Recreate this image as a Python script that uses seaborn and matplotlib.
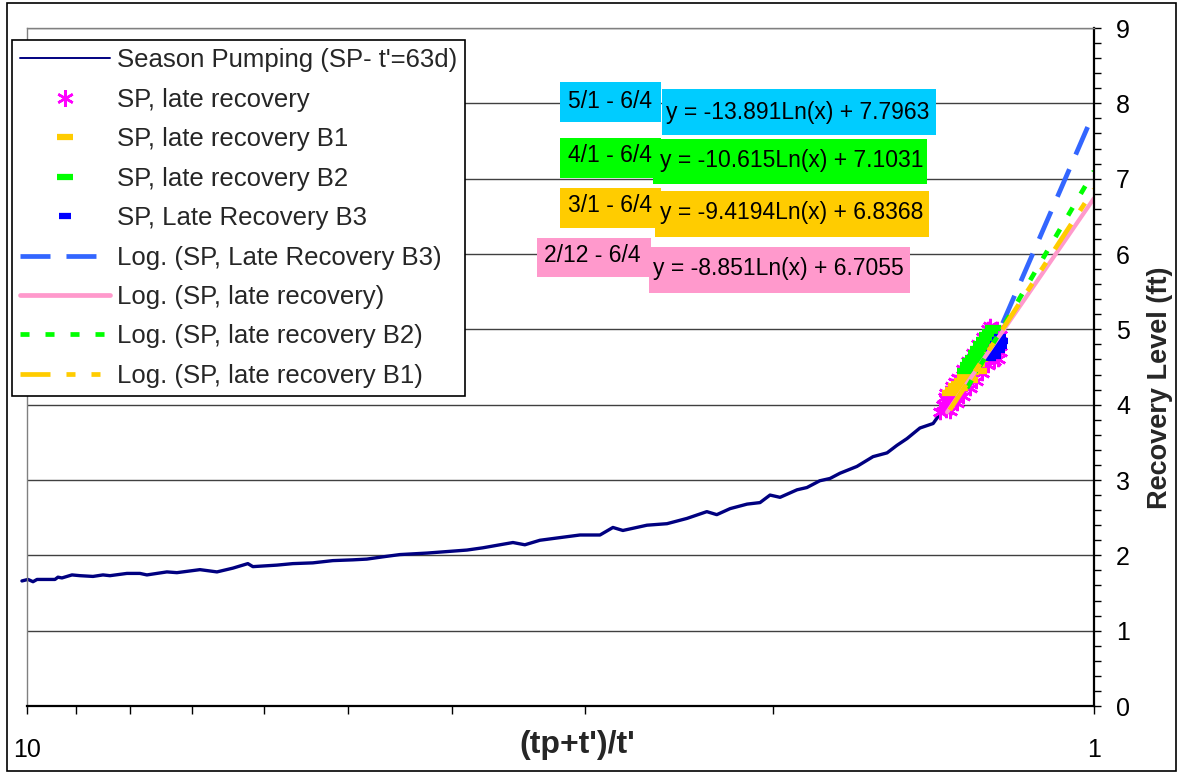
import matplotlib
matplotlib.use("Agg")
import matplotlib.pyplot as plt
import seaborn as sns
import pandas as pd
from matplotlib.lines import Line2D
from matplotlib.patches import Rectangle
from matplotlib.ticker import FixedLocator, NullFormatter, FixedFormatter, MultipleLocator

# ---------------- data ----------------
sp_x = [10.11, 9.978, 9.871, 9.786, 9.414, 9.354, 9.273, 9.075, 8.920, 8.673, 8.488, 8.361,
        8.060, 7.837, 7.720, 7.394, 7.236, 6.885, 6.637, 6.413, 6.209, 6.142, 5.832, 5.635,
        5.397, 5.168, 4.950, 4.803, 4.640, 4.473, 4.218, 4.041, 3.870, 3.739, 3.604, 3.504,
        3.415, 3.306, 3.187, 3.032, 2.904, 2.824, 2.764, 2.624, 2.513, 2.407, 2.306, 2.257,
        2.193, 2.114, 2.056, 2.012, 1.969, 1.898, 1.858, 1.807, 1.768, 1.730, 1.668, 1.611,
        1.563, 1.530, 1.497, 1.456, 1.415, 1.394, 1.373]
sp_y = [1.66, 1.68, 1.65, 1.68, 1.68, 1.71, 1.70, 1.74, 1.73, 1.72, 1.74, 1.73,
        1.76, 1.76, 1.74, 1.78, 1.77, 1.81, 1.78, 1.83, 1.89, 1.85, 1.87, 1.89,
        1.90, 1.93, 1.94, 1.95, 1.98, 2.01, 2.03, 2.05, 2.07, 2.10, 2.14, 2.17,
        2.14, 2.20, 2.23, 2.27, 2.27, 2.37, 2.33, 2.40, 2.42, 2.49, 2.58, 2.54,
        2.62, 2.68, 2.70, 2.80, 2.77, 2.87, 2.90, 2.99, 3.02, 3.09, 3.18, 3.31,
        3.36, 3.46, 3.55, 3.69, 3.75, 3.88, 3.97]

late_x = [1.394, 1.385, 1.376, 1.370, 1.365, 1.359, 1.350, 1.344, 1.336, 1.330, 1.321, 1.315,
          1.307, 1.301, 1.293, 1.287, 1.279, 1.274, 1.266, 1.260, 1.252, 1.247, 1.239, 1.233,
          1.225, 1.230, 1.252, 1.376, 1.350,
          1.379, 1.359, 1.341, 1.327, 1.312, 1.298, 1.285, 1.271, 1.257,
          1.365, 1.344, 1.327, 1.307, 1.290, 1.274, 1.257, 1.241, 1.225]
late_y = [3.90, 4.00, 3.93, 4.08, 4.02, 4.15, 4.10, 4.24, 4.18, 4.32, 4.27, 4.42,
          4.36, 4.50, 4.45, 4.60, 4.52, 4.70, 4.62, 4.80, 4.72, 4.90, 4.82, 5.00,
          4.92, 4.60, 5.05, 4.15, 4.30,
          4.10, 4.25, 4.35, 4.48, 4.58, 4.68, 4.80, 4.90, 5.00,
          3.92, 4.02, 4.12, 4.22, 4.32, 4.42, 4.52, 4.58, 4.70]

b1_x = [1.365, 1.356, 1.347, 1.339, 1.330, 1.321, 1.312, 1.304, 1.296, 1.287, 1.279, 1.268,
        1.336, 1.307, 1.282]
b1_y = [4.15, 4.20, 4.25, 4.28, 4.32, 4.37, 4.40, 4.44, 4.48, 4.54, 4.60, 4.66,
        4.22, 4.33, 4.45]

b2_x = [1.321, 1.312, 1.307, 1.298, 1.290, 1.285, 1.277, 1.268, 1.260, 1.252, 1.244,
        1.293, 1.279, 1.266, 1.252, 1.307]
b2_y = [4.45, 4.52, 4.58, 4.62, 4.68, 4.74, 4.80, 4.86, 4.92, 4.97, 5.02,
        4.56, 4.64, 4.74, 4.85, 4.46]

b3_x = [1.252, 1.247, 1.241, 1.236, 1.230, 1.225, 1.220, 1.228, 1.239, 1.222]
b3_y = [4.62, 4.68, 4.74, 4.80, 4.86, 4.90, 4.84, 4.72, 4.65, 4.78]

# logarithmic trendlines (straight on the log x axis): end points
trend_b3_x, trend_b3_y = [1.218, 1.0], [5.08, 7.88]
trend_late_x, trend_late_y = [1.373, 1.0], [3.90, 6.74]
trend_b2_x, trend_b2_y = [1.315, 1.0], [4.22, 7.10]
trend_b1_x, trend_b1_y = [1.365, 1.0], [3.93, 6.86]

date_labels = ["5/1 - 6/4", "4/1 - 6/4", "3/1 - 6/4", "2/12 - 6/4"]
equation_labels = ["y = -13.891Ln(x) + 7.7963", "y = -10.615Ln(x) + 7.1031",
                   "y = -9.4194Ln(x) + 6.8368", "y = -8.851Ln(x) + 6.7055"]
legend_labels = ["Season Pumping (SP- t'=63d)", "SP, late recovery", "SP, late recovery B1",
                 "SP, late recovery B2", "SP, Late Recovery B3", "Log. (SP, Late Recovery B3)",
                 "Log. (SP, late recovery)", "Log. (SP, late recovery B2)",
                 "Log. (SP, late recovery B1)"]
y_ticks = [0, 1, 2, 3, 4, 5, 6, 7, 8, 9]
x_major_ticks = [1, 10]
x_tick_labels = ["1", "10"]
x_minor_ticks = [2, 3, 4, 5, 6, 7, 8, 9]
x_label = "(tp+t')/t'"
y_label = "Recovery Level (ft)"

# ---------------- style ----------------
sns.set_style("white")
plt.rcParams["font.family"] = ["Liberation Sans", "DejaVu Sans"]
plt.rcParams["lines.scale_dashes"] = False

NAVY = "#000080"
MAGENTA = "#FF00FF"
ORANGE = "#FFCC00"
GREEN = "#00FF00"
BLUE = "#0000FF"
TBLUE = "#3366FF"
PINK = "#FF99CC"
box_colors = ["#00CCFF", "#00FF00", "#FFCC00", "#FF99CC"]

dash_b3 = (0, (21.6, 11.5))
dash_b2 = (0, (6.5, 11.5))
dash_b1 = (0, (21.6, 11.5, 6.5, 11.5, 6.5, 11.5))

W, H = 1178, 773
fig = plt.figure(figsize=(W / 100, H / 100), dpi=100)
fig.patch.set_facecolor("white")

def fx(px):
    return px / W

def fy(py):
    return 1 - py / H

ax = fig.add_axes([fx(27), fy(706), (1094 - 27) / W, (706 - 28) / H])
ax.set_xscale("log")

# ---------------- marks ----------------
sns.lineplot(x=sp_x, y=sp_y, ax=ax, color=NAVY, lw=2.4, sort=False, estimator=None,
             zorder=3, clip_on=False)
ax.plot(late_x, late_y, ls="none", marker=(6, 2, 0), ms=11, mew=1.8, color=MAGENTA, zorder=4)
ax.plot(b1_x, b1_y, ls="none", marker="_", ms=12, mew=4.5, color=ORANGE, zorder=5)
ax.plot(b2_x, b2_y, ls="none", marker="_", ms=12, mew=4.5, color=GREEN, zorder=6)
ax.plot(b3_x, b3_y, ls="none", marker="_", ms=8, mew=4.5, color=BLUE, zorder=7)
sns.lineplot(x=trend_b3_x, y=trend_b3_y, ax=ax, color=TBLUE, lw=3.4, linestyle=dash_b3,
             sort=False, estimator=None, zorder=8)
sns.lineplot(x=trend_late_x, y=trend_late_y, ax=ax, color=PINK, lw=3.0,
             sort=False, estimator=None, zorder=8)
sns.lineplot(x=trend_b2_x, y=trend_b2_y, ax=ax, color=GREEN, lw=3.4, linestyle=dash_b2,
             sort=False, estimator=None, zorder=9)
sns.lineplot(x=trend_b1_x, y=trend_b1_y, ax=ax, color=ORANGE, lw=3.4, linestyle=dash_b1,
             sort=False, estimator=None, zorder=9)

# ---------------- axes ----------------
ax.set_xlim(10, 1)
ax.set_ylim(0, 9)
ax.xaxis.set_major_locator(FixedLocator(x_major_ticks))
ax.xaxis.set_major_formatter(FixedFormatter(x_tick_labels))
ax.xaxis.set_minor_locator(FixedLocator(x_minor_ticks))
ax.xaxis.set_minor_formatter(NullFormatter())
ax.yaxis.set_major_locator(FixedLocator(y_ticks))
ax.yaxis.set_minor_locator(MultipleLocator(0.2))
ax.yaxis.tick_right()
ax.yaxis.set_label_position("right")
ax.tick_params(axis="x", which="both", direction="out", length=6, width=1, colors="black",
               labelsize=18, pad=17, bottom=True)
ax.tick_params(axis="y", which="both", direction="out", length=5, width=1, colors="black",
               labelsize=18, pad=11, right=True, left=False)
ax.grid(axis="y", which="major", color="#404040", lw=1)
ax.grid(axis="x", visible=False)
for side in ["left", "top"]:
    ax.spines[side].set_color("#808080")
    ax.spines[side].set_linewidth(1)
for side in ["right", "bottom"]:
    ax.spines[side].set_color("black")
    ax.spines[side].set_linewidth(1.6)
for s in ax.spines.values():
    s.set_visible(True)
    s.set_zorder(10)

ax.set_xlabel(x_label, fontsize=23, fontweight="bold")
ax.xaxis.label.set_va("center")
ax.xaxis.set_label_coords((577 - 27) / 1067, (706 - 745) / 678)
ax.set_ylabel(y_label, fontsize=19.5, fontweight="bold", rotation=90)
ax.yaxis.label.set_va("center")
ax.yaxis.label.set_ha("center")
ax.yaxis.set_label_coords((1160 - 27) / 1067, (706 - 388) / 678)

# ---------------- legend ----------------
handles = [
    Line2D([], [], color=NAVY, lw=1.4),
    Line2D([], [], ls="none", marker=(6, 2, 0), ms=12, mew=1.8, color=MAGENTA),
    Line2D([], [], ls="none", marker="_", ms=12, mew=4.5, color=ORANGE),
    Line2D([], [], ls="none", marker="_", ms=12, mew=4.5, color=GREEN),
    Line2D([], [], ls="none", marker="_", ms=8, mew=4.5, color=BLUE),
    Line2D([], [], color=TBLUE, lw=3.4, linestyle=dash_b3),
    Line2D([], [], color=PINK, lw=3.4),
    Line2D([], [], color=GREEN, lw=3.4, linestyle=dash_b2),
    Line2D([], [], color=ORANGE, lw=3.4, linestyle=dash_b1),
]
leg = fig.legend(handles, legend_labels, loc="upper left",
                 bbox_to_anchor=(fx(12), fy(40)), bbox_transform=fig.transFigure,
                 frameon=True, fancybox=False, shadow=False, framealpha=1,
                 edgecolor="black", fontsize=18.5, borderpad=0.33, labelspacing=0.6,
                 handlelength=3.5, handletextpad=0.24, borderaxespad=0)
leg.get_frame().set_linewidth(1.2)
leg.set_zorder(20)

# ---------------- equation labels ----------------
date_boxes = [(560, 82, 661, 122), (560, 138, 661, 178), (560, 188, 661, 228), (537, 238, 651, 277)]
date_text_pos = [(568, 102), (568, 156), (568, 205), (544, 255)]
eq_boxes = [(662, 89, 936, 135), (653, 139, 927, 184), (655, 191, 929, 237), (649, 247, 910, 293)]
eq_text_pos = [(666, 112), (660, 161), (660, 213), (653, 269)]

for i in range(4):
    x0, y0, x1, y1 = date_boxes[i]
    fig.add_artist(Rectangle((fx(x0), fy(y1)), (x1 - x0) / W, (y1 - y0) / H,
                             transform=fig.transFigure, facecolor=box_colors[i],
                             edgecolor="none", zorder=30))
    fig.text(fx(date_text_pos[i][0]), fy(date_text_pos[i][1]), date_labels[i],
             ha="left", va="center", fontsize=16.5, color="black", zorder=31)
for i in range(4):
    x0, y0, x1, y1 = eq_boxes[i]
    fig.add_artist(Rectangle((fx(x0), fy(y1)), (x1 - x0) / W, (y1 - y0) / H,
                             transform=fig.transFigure, facecolor=box_colors[i],
                             edgecolor="none", zorder=32))
    fig.text(fx(eq_text_pos[i][0]), fy(eq_text_pos[i][1]), equation_labels[i],
             ha="left", va="center", fontsize=16.5, color="black", zorder=33)

# outer chart frame
fig.add_artist(Rectangle((fx(7), fy(771)), (1176 - 7) / W, (771 - 3) / H,
                         transform=fig.transFigure, facecolor="none",
                         edgecolor="black", lw=1.2, zorder=40))

fig.savefig("out.png", dpi=100)
